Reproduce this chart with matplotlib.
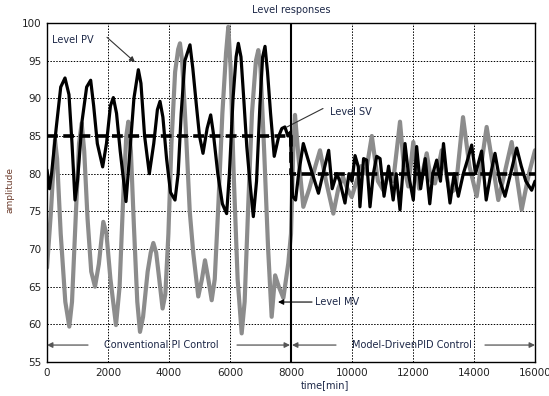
import matplotlib
matplotlib.use("Agg")
import matplotlib.pyplot as plt

# ---- data ----
pv_t = [0, 80, 150, 300, 450, 590, 720, 820, 918, 1000, 1150, 1300, 1432, 1530, 1650, 1825,
        1950, 2080, 2175, 2280, 2400, 2590, 2700, 2850, 2995, 3080, 3200, 3355, 3500, 3620,
        3705, 3800, 3920, 4050, 4197, 4300, 4400, 4520, 4600, 4688, 4780, 4900, 5000, 5115,
        5250, 5367, 5450, 5600, 5750, 5890, 5980, 6100, 6200, 6273, 6360, 6450, 6550, 6650,
        6765, 6870, 6980, 7070, 7148, 7230, 7330, 7450, 7600, 7700, 7800, 7900, 7980,
        8050, 8150, 8250, 8404, 8550, 8700, 8900, 9050, 9235, 9350, 9500, 9600, 9770, 9900,
        10000, 10100, 10207, 10260, 10380, 10480, 10590, 10700, 10810, 10920, 11050, 11200,
        11350, 11450, 11574, 11738, 11850, 12010, 12120, 12250, 12400, 12550, 12650, 12777,
        12900, 13000, 13100, 13213, 13350, 13485, 13650, 13800, 13924, 14050, 14250, 14400,
        14550, 14688, 14850, 15016, 15200, 15400, 15550, 15700, 15890, 16000]
pv_v = [80.5, 78, 80, 86, 91.5, 92.7, 90.5, 84, 76.5, 79, 87, 91.5, 92.4, 89, 84, 80.9,
        84, 89, 90.1, 88, 83, 76.3, 82, 90, 93.8, 92, 85, 80, 84, 88.5,
        89.6, 87.5, 82, 77.5, 76.5, 80, 88, 95, 96, 97.1, 94, 89, 85, 82.7,
        86, 87.8, 85.5, 80, 76, 74.7, 80, 90, 95.5, 97.3, 95.5, 90, 83.6, 79,
        74.3, 79, 89, 95.5, 96.9, 93.5, 88, 82.3, 85, 86, 86.2, 85, 85.5,
        77, 76.5, 80, 84, 82, 80, 77.4, 80, 83.1, 78, 80, 79, 76.1, 80,
        79, 82.4, 80.9, 75.6, 82, 81.8, 75.6, 80, 82.3, 82, 77, 81,
        76.5, 80, 75.2, 84, 80, 76.5, 83.6, 78, 82, 76, 80, 81.8,
        79, 84, 80, 76.1, 80, 77, 80, 82, 83.8, 80, 83, 76.5,
        80, 82.7, 79, 77, 80, 83.4, 81, 79, 77.8, 79]

mv_t = [0, 130, 262, 330, 450, 600, 731, 820, 950, 1050, 1137, 1220, 1330, 1450, 1574, 1700,
        1846, 1950, 2080, 2262, 2380, 2500, 2600, 2666, 2750, 2850, 2960, 3049, 3150, 3300,
        3400, 3486, 3580, 3680, 3790, 3880, 3980, 4080, 4200, 4300, 4360, 4430, 4550, 4680,
        4797, 4960, 5080, 5180, 5290, 5400, 5500, 5620, 5750, 5870, 5945, 6020, 6120, 6250,
        6383, 6480, 6600, 6720, 6850, 6928, 7000, 7120, 7250, 7366, 7480, 7600, 7750, 7911,
        8000, 8080, 8131, 8250, 8404, 8600, 8800, 8951, 9150, 9388, 9550, 9700, 9850, 9990,
        10150, 10300, 10450, 10650, 10850, 11027, 11200, 11350, 11574, 11700, 11847, 12010,
        12200, 12449, 12600, 12721, 12940, 13213, 13400, 13640, 13850, 14088, 14415, 14797,
        15000, 15235, 15563, 15800, 16000]
mv_v = [67.5, 75, 84.5, 82, 72, 63, 59.7, 63, 75, 84, 86.7, 83, 74, 67, 65, 68,
        73.6, 72, 66, 59.9, 65, 77, 85, 86.9, 83, 73, 63, 59, 61, 67,
        69.5, 70.8, 69.5, 66, 62.1, 64, 72, 84, 93.5, 96.5, 97.3, 95, 86, 75,
        69.4, 63.7, 66, 68.5, 66, 63.2, 66, 76, 88, 96, 99.5, 94, 80, 66,
        58.8, 63, 76, 88, 95, 96.4, 94, 83, 70, 61, 66.5, 65, 63.5, 68.1,
        72, 84, 87.8, 82, 75.6, 78, 81, 83.1, 79, 74.7, 78, 79.6, 78, 76.9,
        79, 81, 80, 85, 79, 77.8, 80, 79, 86.9, 81, 78.3, 84.2,
        78, 82.7, 79, 78.7, 83.1, 77.4, 78, 87.5, 81, 77, 86.2, 76.5,
        80, 84.2, 75.2, 80, 83.1]

sv_t = [0, 8000, 8000, 16000]
sv_v = [85, 85, 80, 80]

x_ticks = [0, 2000, 4000, 6000, 8000, 10000, 12000, 14000, 16000]
y_ticks = [55, 60, 65, 70, 75, 80, 85, 90, 95, 100]

txt_col = "#1c2747"

plt.rcParams['font.family'] = ['DejaVu Sans']
fig = plt.figure(figsize=(5.49, 3.96), dpi=100)
ax = fig.add_axes([47/549, 1-362/396, (535-47)/549, (362-23)/396])

ax.plot(mv_t, mv_v, color="#8c8c8c", lw=3.0, solid_joinstyle="round",
        solid_capstyle="round", zorder=2)
ax.plot(pv_t, pv_v, color="black", lw=2.3, solid_joinstyle="round",
        solid_capstyle="round", zorder=3)
ax.plot(sv_t, sv_v, color="black", lw=2.6, linestyle=(0, (3, 1.5)), zorder=4)
ax.axvline(8000, color="black", lw=1.5, zorder=5)

ax.set_xlim(0, 16000)
ax.set_ylim(55, 100)
ax.set_xticks(x_ticks)
ax.set_yticks(y_ticks)
ax.tick_params(length=0, labelsize=7.5, labelcolor="#222222", pad=4)
ax.grid(True, color="black", linestyle=(0, (1.5, 1.5)), lw=0.7)
for s in ax.spines.values():
    s.set_color("black")
    s.set_linewidth(1.0)

fig.text(291/549, 1-10/396, "Level responses", ha="center", va="center",
         fontsize=7, color=txt_col)
fig.text(325/549, 1-385/396, "time[min]", ha="center", va="center",
         fontsize=7, color=txt_col)
fig.text(10/549, 1-190/396, "amplitude", ha="center", va="center", rotation=90,
         fontsize=6.5, color="#6b3a2a")

fs = 7
# Level PV
ax.text(164, 97.7, "Level PV", fontsize=fs, color=txt_col, va="center", ha="left")
ax.annotate("", xy=(2885, 94.8), xytext=(1967, 98.1),
            arrowprops=dict(arrowstyle="-|>", color="#333333", lw=0.8,
                            mutation_scale=8, shrinkA=0, shrinkB=0))
# Level SV
ax.text(9279, 88.2, "Level SV", fontsize=fs, color=txt_col, va="center", ha="left")
ax.annotate("", xy=(7869, 86.2), xytext=(9049, 88.65),
            arrowprops=dict(arrowstyle="-", color="#333333", lw=0.8,
                            shrinkA=0, shrinkB=0))
# Level MV
ax.text(8787, 62.96, "Level MV", fontsize=fs, color=txt_col, va="center", ha="left")
ax.annotate("", xy=(7574, 62.96), xytext=(8689, 62.96),
            arrowprops=dict(arrowstyle="-|>", color="black", lw=0.8,
                            mutation_scale=8, shrinkA=0, shrinkB=0))

# Control-mode spans
yb = 57.25
ax.text(3754, yb, "Conventional PI Control", fontsize=fs, color=txt_col,
        va="center", ha="center")
ax.text(11950, yb, "Model-DrivenPID Control", fontsize=fs, color=txt_col,
        va="center", ha="center")
for a, b in [(1344, 0), (6230, 7967), (9475, 8033), (14360, 16000)]:
    ax.annotate("", xy=(b, yb), xytext=(a, yb),
                arrowprops=dict(arrowstyle="-|>", color="#555555", lw=0.9,
                                mutation_scale=8, shrinkA=0, shrinkB=0))

fig.savefig("out.png", dpi=100)
